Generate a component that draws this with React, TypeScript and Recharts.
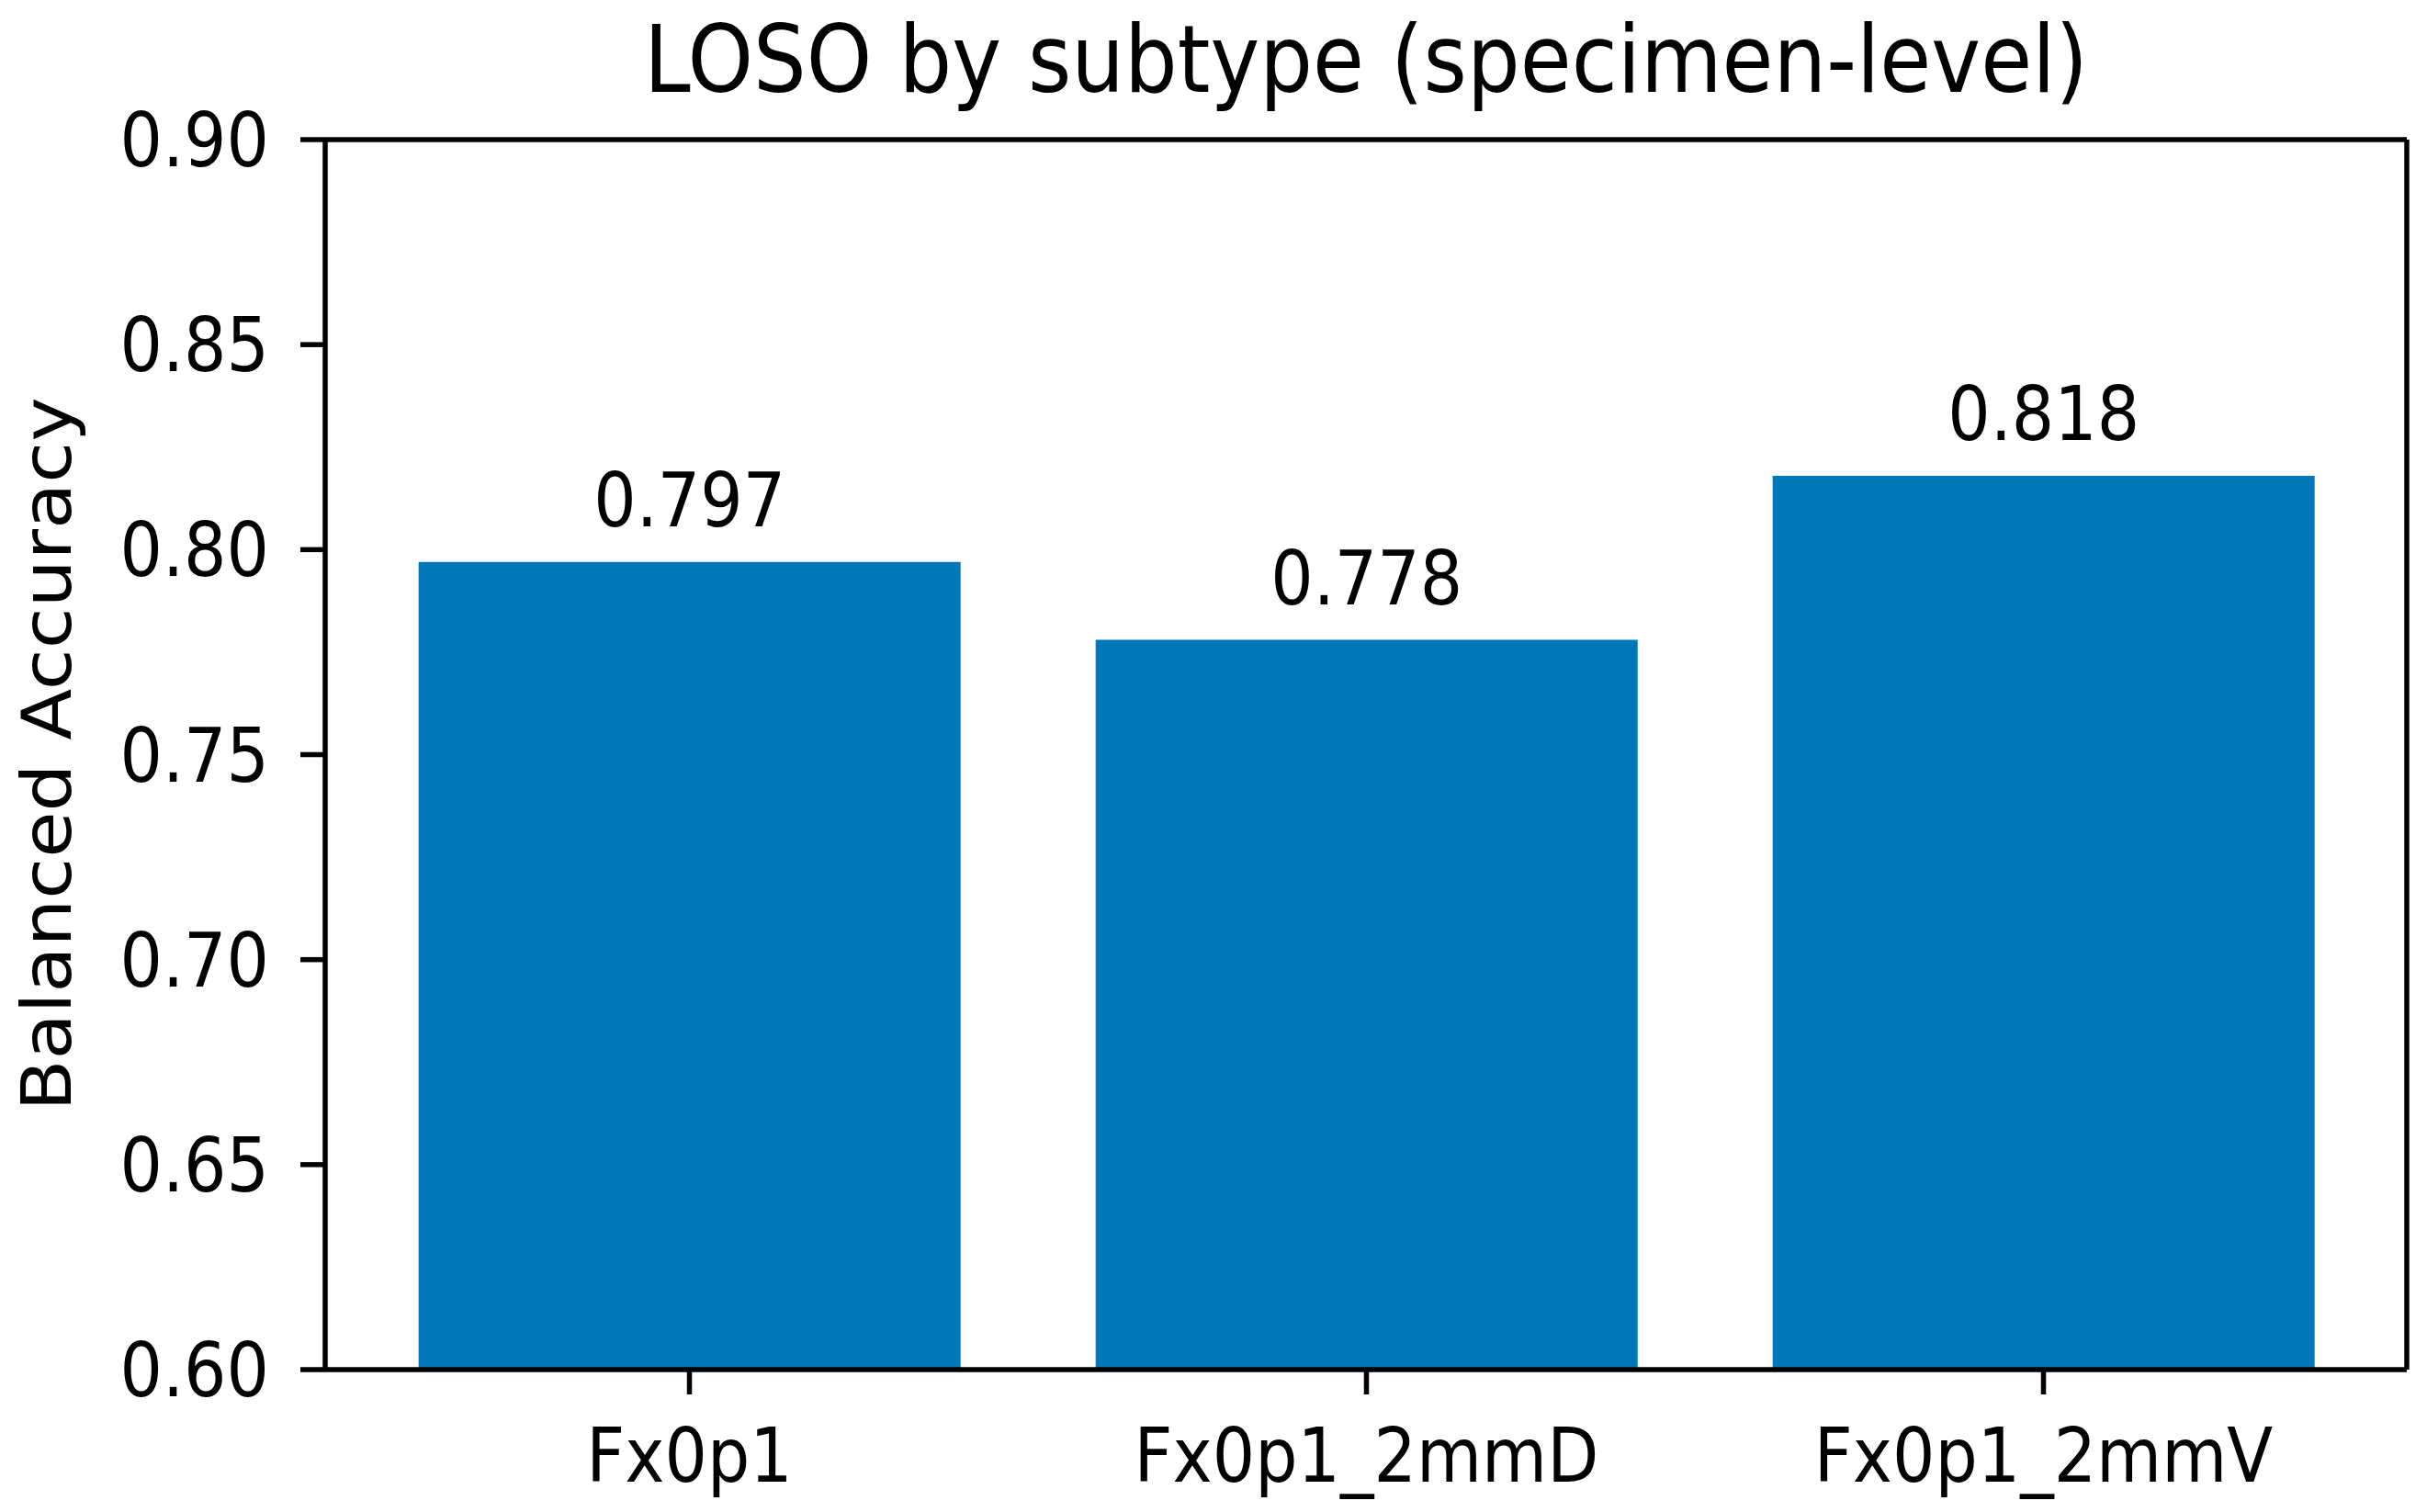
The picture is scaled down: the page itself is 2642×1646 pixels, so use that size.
import { BarChart, Bar, XAxis, YAxis, LabelList } from 'recharts';

const categories = ['Fx0p1', 'Fx0p1_2mmD', 'Fx0p1_2mmV'];
const accuracy = [0.797, 0.778, 0.818];
const yTicks = [0.6, 0.65, 0.7, 0.75, 0.8, 0.85, 0.9];

const TITLE = 'LOSO by subtype (specimen-level)';
const Y_LABEL = 'Balanced Accuracy';

const W = 2642;
const H = 1646;
const BAR_COLOR = '#0077B6';
const FONT = "'DejaVu Sans', sans-serif";
// source image is a bit taller than wide, so glyphs get a vertical stretch
const STRETCH = 1.12;
const LINE_W = 5.5;

const data = categories.map((name, i) => ({ name, value: accuracy[i] }));

// y tick labels, right-aligned and centred on the tick
function YTick({ x, y, payload }: any) {
  return (
    <text
      transform={`translate(${x},${y}) scale(1,${STRETCH})`}
      textAnchor="end"
      dy="0.355em"
      fontSize={73}
      fontFamily={FONT}
      fill="#000"
    >
      {Number(payload.value).toFixed(2)}
    </text>
  );
}

function XTick({ x, y, payload }: any) {
  return (
    <text
      transform={`translate(${x},${y}) scale(1,${STRETCH})`}
      textAnchor="middle"
      dy="0.71em"
      fontSize={73}
      fontFamily={FONT}
      fill="#000"
    >
      {payload.value}
    </text>
  );
}

// value label above each bar
function BarValue({ x, y, width, value }: any) {
  const cx = Number(x) + Number(width) / 2;
  const by = Number(y) - 39;
  return (
    <text
      transform={`translate(${cx},${by}) scale(1,${STRETCH})`}
      textAnchor="middle"
      fontSize={73}
      fontFamily={FONT}
      fill="#000"
    >
      {Number(value).toFixed(3)}
    </text>
  );
}

export default function App() {
  return (
    <div style={{ position: 'absolute', left: 0, top: 0, width: W, height: H, background: '#fff' }}>
      <BarChart
        width={W}
        height={H}
        data={data}
        margin={{ top: 151, right: 21, bottom: 0, left: 0 }}
        barCategoryGap="10%"
      >
        <XAxis
          dataKey="name"
          height={155}
          padding={{ left: 28, right: 27 }}
          axisLine={{ stroke: '#000', strokeWidth: LINE_W }}
          tickLine={{ stroke: '#000', strokeWidth: LINE_W }}
          tickSize={27}
          tickMargin={37}
          tick={<XTick />}
          interval={0}
        />
        <XAxis
          xAxisId="top"
          dataKey="name"
          orientation="top"
          height={1}
          axisLine={{ stroke: '#000', strokeWidth: LINE_W }}
          tickLine={false}
          tick={false}
        />
        <YAxis
          width={354}
          domain={[0.6, 0.9]}
          ticks={yTicks}
          allowDataOverflow
          axisLine={{ stroke: '#000', strokeWidth: LINE_W }}
          tickLine={{ stroke: '#000', strokeWidth: LINE_W }}
          tickSize={27}
          tickMargin={34}
          tick={<YTick />}
          interval={0}
        />
        <YAxis
          yAxisId="right"
          orientation="right"
          width={1}
          domain={[0.6, 0.9]}
          axisLine={{ stroke: '#000', strokeWidth: LINE_W }}
          tickLine={false}
          tick={false}
        />
        <Bar dataKey="value" fill={BAR_COLOR} isAnimationActive={false}>
          <LabelList dataKey="value" content={<BarValue />} />
        </Bar>
      </BarChart>
      <svg
        width={W}
        height={H}
        style={{ position: 'absolute', left: 0, top: 0, pointerEvents: 'none' }}
      >
        <text
          transform={`translate(1487,100) scale(1,${STRETCH})`}
          textAnchor="middle"
          fontSize={91}
          fontFamily={FONT}
          fill="#000"
        >
          {TITLE}
        </text>
        <text
          transform={`translate(77,821) rotate(-90) scale(1.09,1)`}
          textAnchor="middle"
          fontSize={75}
          fontFamily={FONT}
          fill="#000"
        >
          {Y_LABEL}
        </text>
      </svg>
    </div>
  );
}
